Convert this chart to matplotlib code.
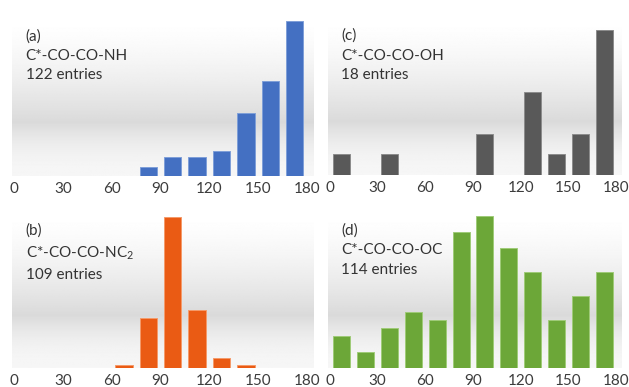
import matplotlib
matplotlib.use('Agg')
import matplotlib.pyplot as plt
import numpy as np

plt.rcParams['font.family'] = ['Lato', 'DejaVu Sans']
plt.rcParams['mathtext.fontset'] = 'custom'
plt.rcParams['mathtext.rm'] = 'Lato'

# 15-degree bins, 0..180
bin_left = np.arange(0, 180, 15)
counts_a = [0, 0, 0, 0, 0, 3, 6, 6, 8, 20, 30, 49]    # C*-CO-CO-NH
counts_b = [0, 0, 0, 0, 1, 20, 60, 23, 4, 1, 0, 0]    # C*-CO-CO-NC2
counts_c = [1, 0, 1, 0, 0, 0, 2, 0, 4, 1, 2, 7]       # C*-CO-CO-OH
counts_d = [4, 2, 5, 7, 6, 17, 19, 15, 12, 6, 9, 12]  # C*-CO-CO-OC
ticks = [0, 30, 60, 90, 120, 150, 180]

panels = [
    # label, name, entries, counts, color, edge, rect(px: left, right, top, baseline), ytop
    ('(a)', 'C*-CO-CO-NH', '122 entries', counts_a, '#4470C2', '#7f9fd8', (14, 307, 8, 176), 53.1),
    ('(c)', 'C*-CO-CO-OH', '18 entries', counts_c, '#595959', '#8c8c8c', (330, 616, 8, 175), 8.06),
    ('(b)', 'C*-CO-CO-NC$_{\\mathrm{2}}$', '109 entries', counts_b, '#EA5B14', '#f59a6a', (14, 307, 203, 368), 65.6),
    ('(d)', 'C*-CO-CO-OC', '114 entries', counts_d, '#6CA738', '#9fcb78', (330, 616, 203, 368), 20.67),
]

W, H = 629, 387
fig = plt.figure(figsize=(W / 100, H / 100), dpi=100)

# background gradient (shaded floor band), axes fraction 0 = bottom
yy = np.linspace(0, 1, 300)
depth = np.where(yy < 0.32,
                 0.035 + 0.11 * (yy / 0.32) ** 2,
                 0.145 * np.clip(1 - (yy - 0.32) / 0.62, 0, 1) ** 1.5)
grad = (1 - depth)[:, None] * np.ones((1, 2))

for lab, name, entries, counts, color, edge, (l, r, t, b), ytop in panels:
    x0 = l / W
    y0 = 1 - b / H
    ax = fig.add_axes([x0, y0, (r - l) / W, (b - t) / H])
    ax.imshow(grad, extent=(-1, 184, 0, ytop), aspect='auto', origin='lower',
              cmap='gray', vmin=0, vmax=1, zorder=0, clip_on=False)
    nz = [i for i, c in enumerate(counts) if c > 0]
    ax.bar([bin_left[i] + 7.5 for i in nz], [counts[i] for i in nz], width=10.6,
           color=color, edgecolor=edge, linewidth=0.7, zorder=2)
    ax.set_xlim(0, 180)
    ax.set_ylim(0, ytop)
    for s in ax.spines.values():
        s.set_visible(False)
    ax.set_yticks([])
    ax.set_xticks(ticks)
    ax.set_xticklabels([str(v) for v in ticks], fontsize=11, color='#3c3c3c')
    ax.tick_params(axis='x', length=0, pad=4)
    ax.text(0.04, 0.875, lab + '\n' + name + '\n' + entries, transform=ax.transAxes,
            fontsize=11, color='#333333', va='top', ha='left', linespacing=1.5)

plt.savefig('out.png', dpi=100)
